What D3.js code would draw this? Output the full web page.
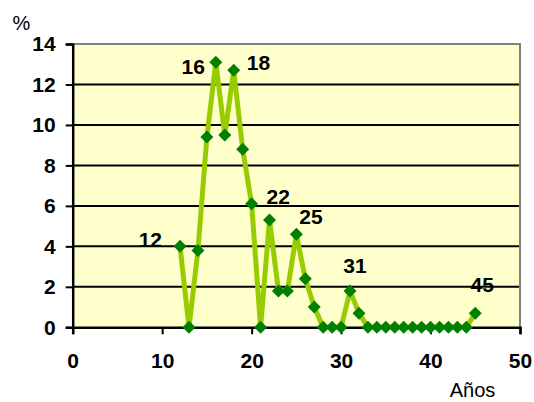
<!DOCTYPE html>
<html>
<head>
<meta charset="utf-8">
<script src="https://cdn.jsdelivr.net/npm/d3@7/dist/d3.min.js"></script>
<style>
  html, body { margin: 0; padding: 0; background: #ffffff; }
  svg { display: block; font-family: "Liberation Sans", Arial, sans-serif; }
</style>
</head>
<body>
<svg id="chart" width="534" height="402"></svg>
<script>
// Age (years) and share of cases (%)
const ages = [12, 13, 14, 15, 16, 17, 18, 19, 20, 21, 22, 23, 24, 25, 26, 27, 28, 29, 30,
              31, 32, 33, 34, 35, 36, 37, 38, 39, 40, 41, 42, 43, 44, 45];
const percents = [4.0, 0, 3.8, 9.4, 13.1, 9.5, 12.7, 8.8, 6.1, 0, 5.3, 1.8, 1.8, 4.6, 2.4, 1.0, 0, 0, 0,
                  1.8, 0.7, 0, 0, 0, 0, 0, 0, 0, 0, 0, 0, 0, 0, 0.7];
// Ages that carry a label next to their point
const labelledAges = [12, 16, 18, 22, 25, 31, 45];
const xTicks = [0, 10, 20, 30, 40, 50];
const yTicks = [0, 2, 4, 6, 8, 10, 12, 14];
const yTitle = "%";
const xTitle = "Años";

const data = ages.map((a, i) => ({ age: a, pct: percents[i] }));

const svg = d3.select("#chart");
const plot = { left: 72.7, right: 520, top: 44, bottom: 327.3 };
const fontSize = 21;

const x = d3.scaleLinear().domain([0, 50]).range([plot.left, plot.right]);
const y = d3.scaleLinear().domain([0, 14]).range([plot.bottom, plot.top]);

// plot background
svg.append("rect")
  .attr("x", plot.left).attr("y", plot.top)
  .attr("width", plot.right - plot.left).attr("height", plot.bottom - plot.top)
  .attr("fill", "#FFFFCC");

// horizontal gridlines
svg.append("g").selectAll("line")
  .data(yTicks.filter(t => t > 0 && t < 14))
  .join("line")
  .attr("x1", plot.left).attr("x2", plot.right)
  .attr("y1", d => y(d)).attr("y2", d => y(d))
  .attr("stroke", "#000").attr("stroke-width", 2);

// plot frame (top and right)
svg.append("path")
  .attr("d", `M${plot.left},${plot.top}H${plot.right}V${plot.bottom}`)
  .attr("fill", "none").attr("stroke", "#808080").attr("stroke-width", 2);

// y axis
const yAxis = svg.append("g")
  .attr("transform", `translate(${plot.left},0)`)
  .call(d3.axisLeft(y).tickValues(yTicks).tickSize(7).tickPadding(10).tickFormat(d3.format("d")));
yAxis.select(".domain").attr("stroke", "#000").attr("stroke-width", 2.5);
yAxis.selectAll(".tick line").attr("stroke", "#000").attr("stroke-width", 2);
yAxis.selectAll(".tick text")
  .attr("font-family", "Liberation Sans, Arial, sans-serif")
  .attr("font-size", fontSize).attr("font-weight", "bold").attr("fill", "#000");

// x axis
const xAxis = svg.append("g")
  .attr("transform", `translate(0,${plot.bottom})`)
  .call(d3.axisBottom(x).tickValues(xTicks).tickSize(7).tickPadding(19).tickFormat(d3.format("d")));
xAxis.select(".domain").attr("stroke", "#000").attr("stroke-width", 2.5);
xAxis.selectAll(".tick line").attr("stroke", "#000").attr("stroke-width", 2);
xAxis.selectAll(".tick text")
  .attr("font-family", "Liberation Sans, Arial, sans-serif")
  .attr("font-size", fontSize).attr("font-weight", "bold").attr("fill", "#000");

// series line
const line = d3.line().x(d => x(d.age)).y(d => y(d.pct));
svg.append("path")
  .datum(data)
  .attr("d", line)
  .attr("fill", "none")
  .attr("stroke", "#99CC00")
  .attr("stroke-width", 5)
  .attr("stroke-linejoin", "round");

// diamond markers
const r = 6.5;
svg.append("g").selectAll("path")
  .data(data)
  .join("path")
  .attr("transform", d => `translate(${x(d.age)},${y(d.pct)})`)
  .attr("d", `M0,${-r}L${r},0L0,${r}L${-r},0Z`)
  .attr("fill", "#008000");

// point labels: placement of each label around its marker
const placement = {
  12: { anchor: "end",   dx: -18, dy: -7 },
  16: { anchor: "end",   dx: -11, dy: 4 },
  18: { anchor: "start", dx: 13,  dy: -8 },
  22: { anchor: "start", dx: -3,  dy: -24 },
  25: { anchor: "start", dx: 3,   dy: -18 },
  31: { anchor: "middle", dx: 5,  dy: -25 },
  45: { anchor: "middle", dx: 7,  dy: -29 }
};
svg.append("g").selectAll("text")
  .data(data.filter(d => labelledAges.includes(d.age)))
  .join("text")
  .attr("x", d => x(d.age) + placement[d.age].dx)
  .attr("y", d => y(d.pct) + placement[d.age].dy)
  .attr("dy", "0.36em")
  .attr("text-anchor", d => placement[d.age].anchor)
  .attr("font-size", fontSize).attr("font-weight", "bold").attr("fill", "#000")
  .text(d => d.age);

// axis titles
svg.append("text")
  .attr("x", 21.5).attr("y", 30)
  .attr("text-anchor", "middle")
  .attr("font-size", 20).attr("fill", "#000")
  .text(yTitle);

svg.append("text")
  .attr("x", 472.5).attr("y", 397)
  .attr("text-anchor", "middle")
  .attr("font-size", 20).attr("fill", "#000")
  .text(xTitle);
</script>
</body>
</html>
